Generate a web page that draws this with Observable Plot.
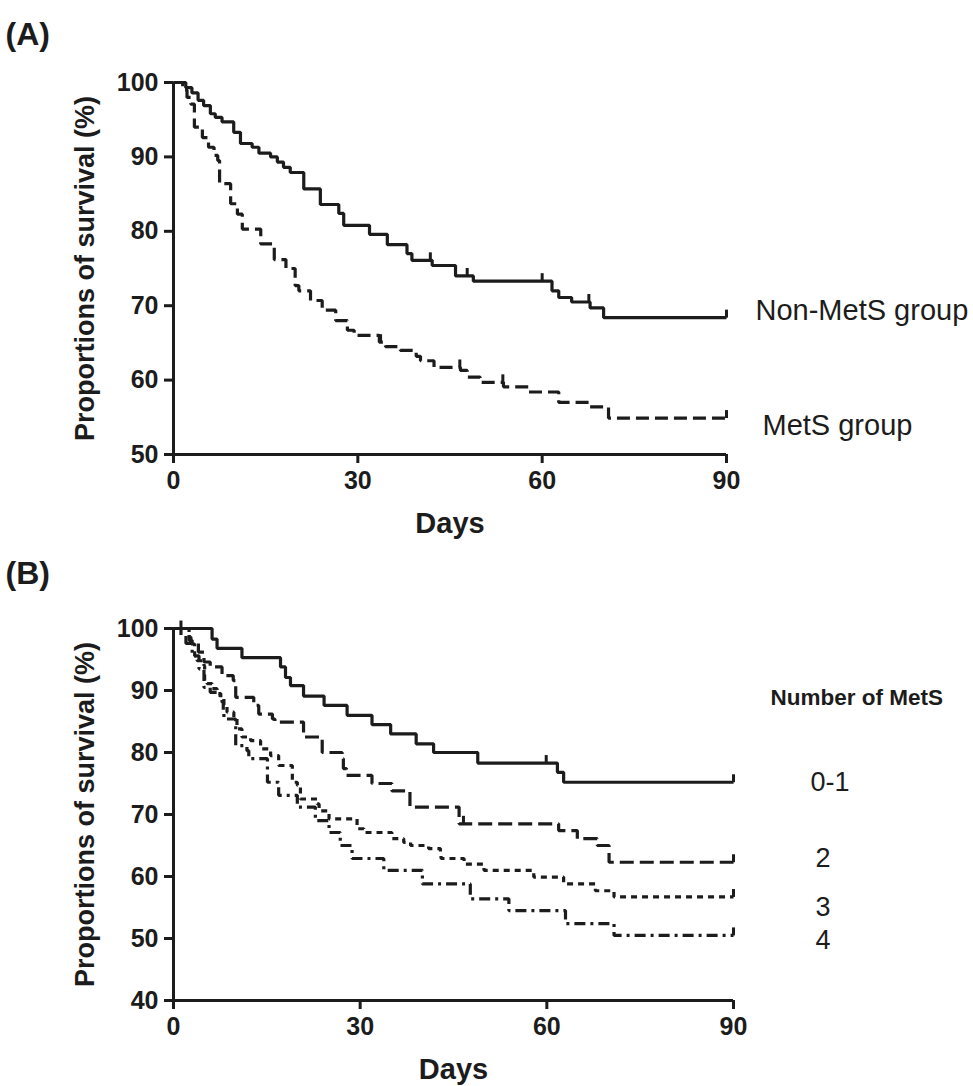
<!DOCTYPE html>
<html><head><meta charset="utf-8">
<script src="https://cdn.jsdelivr.net/npm/d3@7"></script>
<script src="https://cdn.jsdelivr.net/npm/@observablehq/plot@0.6"></script>
<style>
html,body{margin:0;padding:0;background:#fff;}
#wrap{width:973px;height:1086px;position:relative;overflow:hidden;}
#wrap svg{display:block;}
</style></head><body><div id="wrap"></div>
<script>
// ---------- Panel A data ----------
const xTicks = [0, 30, 60, 90];
const yTicksA = [50, 60, 70, 80, 90, 100];
const nonMetSDays = [2.0, 3.0, 4.0, 4.9, 6.0, 6.8, 7.9, 9.8, 10.9, 12.8, 13.9, 15.8, 16.9, 17.9, 19.0, 21.2, 23.9, 26.9, 27.7, 31.9, 34.8, 38.0, 38.8, 42.1, 45.9, 48.8, 61.6, 62.7, 64.8, 67.8, 70.0];
const nonMetSSurv = [99.3, 98.6, 97.6, 96.9, 95.8, 95.3, 94.7, 93.3, 91.8, 91.3, 90.5, 90.0, 89.3, 88.6, 87.9, 85.7, 83.6, 82.4, 80.8, 79.6, 78.2, 77.0, 76.1, 75.4, 74.0, 73.3, 72.0, 71.1, 70.5, 69.7, 68.4];
const nonMetSCensored = [41.8, 47.8, 60.0, 67.6, 90];
const metSDays = [1.5, 2.2, 2.8, 3.4, 4.7, 5.7, 6.6, 7.2, 7.5, 9.3, 10.4, 11.2, 14.2, 16.4, 18.3, 19.8, 20.4, 22.3, 24.2, 26.4, 28.3, 29.4, 33.5, 34.5, 36.9, 39.5, 40.2, 42.4, 46.7, 47.8, 49.9, 53.7, 57.8, 62.7, 67.8, 70.8];
const metSSurv = [99.0, 98.0, 97.1, 94.0, 92.6, 91.3, 90.2, 89.5, 86.4, 83.7, 82.3, 80.3, 78.3, 76.2, 75.0, 72.7, 72.0, 70.7, 69.4, 68.0, 66.7, 66.0, 65.1, 64.5, 64.0, 63.2, 62.6, 61.7, 61.3, 60.4, 59.7, 59.1, 58.4, 57.0, 56.4, 54.9];
const metSCensored = [33.7, 46.6, 53.6, 90];
const groupLabelsA = ["Non-MetS group", "MetS group"];

// ---------- Panel B data ----------
const yTicksB = [40, 50, 60, 70, 80, 90, 100];
const g01Days = [6.2, 7.0, 11.0, 17.2, 18.0, 18.8, 20.9, 24.2, 27.9, 31.9, 34.9, 39.0, 41.8, 48.9, 61.7, 62.7];
const g01Surv = [98.3, 96.8, 95.3, 93.8, 92.1, 90.8, 89.1, 87.6, 86.0, 84.5, 83.0, 81.4, 80.0, 78.3, 76.8, 75.2];
const g01Censored = [1.2, 59.9, 90];
const g2Days = [1.2, 2.0, 4.0, 4.9, 5.9, 7.8, 9.6, 10.0, 12.9, 13.7, 15.9, 16.3, 20.9, 23.9, 27.1, 27.3, 27.8, 31.9, 35.1, 38.0, 45.9, 61.9, 64.9, 68.1, 70.0];
const g2Surv = [98.8, 97.6, 96.2, 94.6, 93.8, 92.4, 91.6, 88.9, 87.6, 86.2, 85.4, 84.9, 82.5, 80.0, 79.0, 77.4, 76.3, 75.0, 73.8, 71.2, 68.5, 67.4, 66.1, 65.0, 62.3];
const g2Censored = [46.6, 90];
const g3Days = [2.5, 2.8, 3.4, 3.8, 4.9, 5.0, 5.4, 6.2, 7.0, 7.6, 8.1, 8.6, 9.7, 10.2, 11.0, 12.4, 14.0, 15.6, 16.9, 19.1, 19.9, 20.4, 23.1, 23.4, 25.0, 29.5, 30.6, 35.1, 37.0, 38.1, 41.0, 42.9, 43.0, 46.7, 49.9, 57.9, 62.7, 67.8, 70.8];
const g3Surv = [98.6, 97.5, 95.6, 94.8, 94.0, 91.6, 91.1, 90.3, 89.5, 88.9, 87.6, 86.5, 85.7, 83.8, 82.5, 81.9, 80.6, 79.5, 77.9, 75.2, 74.7, 72.5, 71.7, 70.6, 69.3, 67.7, 67.1, 66.1, 65.5, 65.0, 64.5, 63.7, 62.9, 62.0, 61.0, 59.9, 58.8, 57.7, 56.7];
const g3Censored = [90];
const g4Days = [2.5, 3.0, 4.1, 4.9, 5.9, 7.0, 7.8, 8.0, 8.1, 10.0, 11.8, 12.1, 15.1, 16.9, 19.9, 22.8, 25.0, 26.8, 28.7, 33.8, 40.0, 47.7, 53.9, 63.0, 70.8];
const g4Surv = [98.1, 95.6, 93.5, 90.5, 89.7, 89.2, 88.1, 86.5, 85.4, 81.1, 80.3, 79.0, 75.2, 73.1, 71.2, 69.0, 67.1, 65.0, 62.9, 61.0, 58.8, 56.4, 54.5, 52.4, 50.5];
const g4Censored = [90];
const groupLabelsB = ["0-1", "2", "3", "4"];
const legendTitleB = "Number of MetS";

// ---------- helpers ----------
const FONT = "'Liberation Sans', Arial, Helvetica, sans-serif";
const INK = "#1c1c1c";
function stepSeries(days, surv) {
  const pts = [{day: 0, surv: 100}];
  days.forEach((d, i) => pts.push({day: d, surv: surv[i]}));
  pts.push({day: 90, surv: surv[surv.length - 1]});
  return pts;
}
function valueAt(days, surv, t) {
  let v = 100;
  for (let i = 0; i < days.length; i++) if (days[i] <= t) v = surv[i];
  return v;
}
function censorPts(censored, days, surv) {
  return censored.map(t => ({day: t, surv: valueAt(days, surv, t)}));
}
function endPt(days, surv, label) {
  return [{day: 90, surv: surv[surv.length - 1], label}];
}
const tickUp = {draw(ctx, size) { const h = Math.sqrt(size); ctx.moveTo(0, 0); ctx.lineTo(0, -h); }};

function curveMarks(days, surv, censored, dash) {
  return [
    Plot.line(stepSeries(days, surv), {x: "day", y: "surv", curve: "step-after", stroke: INK, strokeWidth: 3.2, strokeDasharray: dash, strokeLinecap: "butt", strokeLinejoin: "miter"}),
    Plot.dot(censorPts(censored, days, surv), {x: "day", y: "surv", symbol: tickUp, r: 4.5, fill: "none", stroke: INK, strokeWidth: 3})
  ];
}
function axisMarks(yTicks, yMin) {
  return [
    Plot.ruleX([0], {stroke: INK, strokeWidth: 3}),
    Plot.ruleY([yMin], {stroke: INK, strokeWidth: 3}),
    Plot.axisY({ticks: yTicks, tickSize: 9, tickPadding: 6, fontSize: 25, fontWeight: "bold", stroke: INK, strokeWidth: 3, fill: INK, label: null, tickFormat: d => String(d)}),
    Plot.axisX({ticks: xTicks, tickSize: 9, tickPadding: 8, fontSize: 25, fontWeight: "bold", stroke: INK, strokeWidth: 3, fill: INK, label: null, tickFormat: d => String(d)}),
    Plot.text(["Proportions of survival (%)"], {frameAnchor: "left", rotate: -90, dx: -88, textAnchor: "middle", lineAnchor: "middle", fontSize: 27, fontWeight: "bold", fill: INK}),
    Plot.text(["Days"], {frameAnchor: "bottom", dy: 69, textAnchor: "middle", lineAnchor: "middle", fontSize: 29, fontWeight: "bold", fill: INK})
  ];
}

const wrap = document.getElementById("wrap");

// ---------- Panel A ----------
const chartA = Plot.plot({
  width: 973, height: 540,
  marginTop: 82, marginBottom: 86, marginLeft: 173, marginRight: 247,
  x: {domain: [0, 90]}, y: {domain: [50, 100]},
  style: {fontFamily: FONT, background: "#fff", color: INK, overflow: "visible"},
  marks: [
    ...axisMarks(yTicksA, 50),
    ...curveMarks(nonMetSDays, nonMetSSurv, nonMetSCensored, null),
    ...curveMarks(metSDays, metSSurv, metSCensored, "13,6"),
    Plot.text(endPt(nonMetSDays, nonMetSSurv, groupLabelsA[0]), {x: "day", y: "surv", text: "label", dx: 29, dy: -7, textAnchor: "start", lineAnchor: "middle", fontSize: 29, fill: INK}),
    Plot.text(endPt(metSDays, metSSurv, groupLabelsA[1]), {x: "day", y: "surv", text: "label", dx: 36, dy: 8, textAnchor: "start", lineAnchor: "middle", fontSize: 29, fill: INK}),
    Plot.text(["(A)"], {frameAnchor: "top-left", dx: -168, dy: -48, textAnchor: "start", lineAnchor: "middle", fontSize: 32, fontWeight: "bold", fill: INK})
  ]
});
wrap.appendChild(chartA);

// ---------- Panel B ----------
const chartB = Plot.plot({
  width: 973, height: 546,
  marginTop: 88, marginBottom: 86, marginLeft: 173, marginRight: 240,
  x: {domain: [0, 90]}, y: {domain: [40, 100]},
  style: {fontFamily: FONT, background: "#fff", color: INK, overflow: "visible"},
  marks: [
    ...axisMarks(yTicksB, 40),
    ...curveMarks(g01Days, g01Surv, g01Censored, null),
    ...curveMarks(g2Days, g2Surv, g2Censored, "14,6"),
    ...curveMarks(g3Days, g3Surv, g3Censored, "6,5"),
    ...curveMarks(g4Days, g4Surv, g4Censored, "11,5,3,5"),
    Plot.text(endPt(g01Days, g01Surv, groupLabelsB[0]), {x: "day", y: "surv", text: "label", dx: 77, dy: 0, textAnchor: "start", lineAnchor: "middle", fontSize: 27, fill: INK}),
    Plot.text(endPt(g2Days, g2Surv, groupLabelsB[1]), {x: "day", y: "surv", text: "label", dx: 82, dy: -4, textAnchor: "start", lineAnchor: "middle", fontSize: 27, fill: INK}),
    Plot.text(endPt(g3Days, g3Surv, groupLabelsB[2]), {x: "day", y: "surv", text: "label", dx: 82, dy: 10, textAnchor: "start", lineAnchor: "middle", fontSize: 27, fill: INK}),
    Plot.text(endPt(g4Days, g4Surv, groupLabelsB[3]), {x: "day", y: "surv", text: "label", dx: 82, dy: 5, textAnchor: "start", lineAnchor: "middle", fontSize: 27, fill: INK}),
    Plot.text([legendTitleB], {frameAnchor: "top-right", dx: 37, dy: 69, textAnchor: "start", lineAnchor: "middle", fontSize: 22.5, fontWeight: "bold", fill: INK}),
    Plot.text(["(B)"], {frameAnchor: "top-left", dx: -168, dy: -55, textAnchor: "start", lineAnchor: "middle", fontSize: 32, fontWeight: "bold", fill: INK})
  ]
});
wrap.appendChild(chartB);
</script>
</body></html>
